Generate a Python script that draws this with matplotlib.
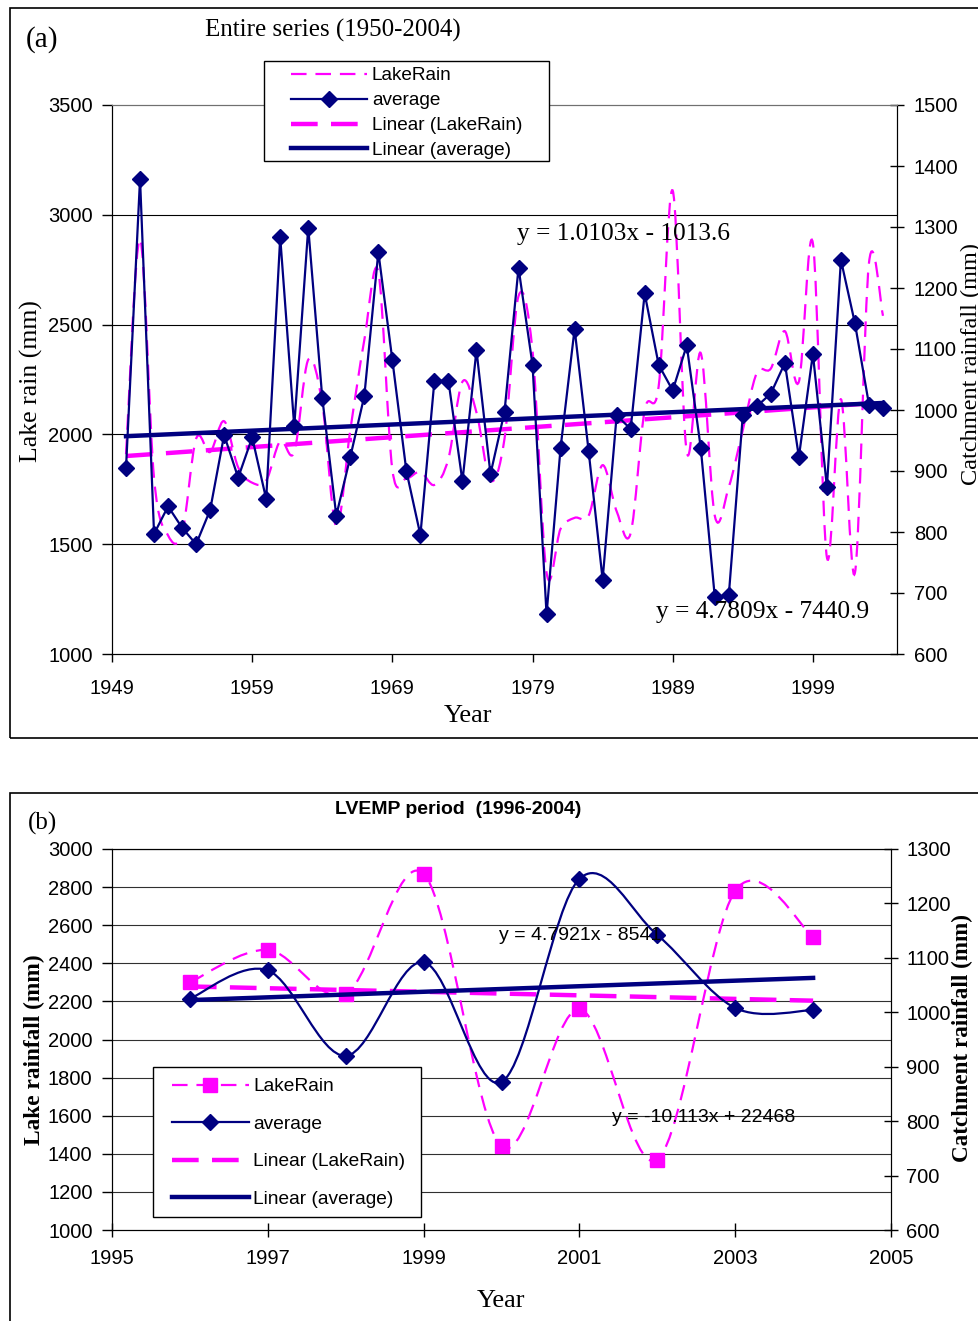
import numpy as np
import matplotlib
matplotlib.use("Agg")
import matplotlib.pyplot as plt
from matplotlib.path import Path
from matplotlib.patches import PathPatch, Rectangle
from matplotlib.lines import Line2D

plt.rcParams['font.family'] = ['Liberation Sans', 'DejaVu Sans']
SERIF = ['Liberation Serif', 'DejaVu Serif']

# ---- panel (a): entire series 1950-2004 ----
years_a = list(range(1950, 2005))
lake_a = [1910, 2890, 1800, 1540, 1550, 1980, 1920, 2060, 1850, 1780,
          1790, 1970, 1920, 2340, 2140, 1580, 2020, 2430, 2740, 1840,
          1800, 1830, 1770, 1890, 2240, 2100, 1790, 1980, 2630, 2380,
          1370, 1570, 1620, 1630, 1860, 1650, 1550, 2110, 2220, 3110,
          1920, 2370, 1630, 1760, 2020, 2280, 2300, 2470, 2240, 2870,
          1440, 2160, 1370, 2780, 2540]
avg_a = [905, 1379, 797, 842, 807, 780, 836, 959, 889, 955,
         854, 1283, 973, 1299, 1020, 827, 923, 1023, 1259, 1082,
         900, 795, 1048, 1048, 883, 1098, 895, 997, 1233, 1074,
         665, 938, 1133, 933, 722, 991, 969, 1191, 1074, 1032,
         1106, 938, 694, 696, 991, 1006, 1027, 1077, 923, 1092,
         874, 1246, 1142, 1009, 1004]
eq_a_avg = "y = 1.0103x - 1013.6"
eq_a_lake = "y = 4.7809x - 7440.9"

# ---- panel (b): LVEMP period 1996-2004 ----
years_b = list(range(1996, 2005))
lake_b = [2300, 2470, 2240, 2870, 1440, 2160, 1370, 2780, 2540]
avg_b = [1025, 1077, 920, 1092, 872, 1245, 1142, 1008, 1004]
eq_b_avg = "y = 4.7921x - 8541"
eq_b_lake = "y = -10.113x + 22468"

labels = ["LakeRain", "average", "Linear (LakeRain)", "Linear (average)"]

MAG = '#FF00FF'
NAVY = '#000080'
W, H = 979, 1321


def smooth_path(x, y):
    # Bezier path through the points, like a spreadsheet "smoothed line"
    x = list(x); y = list(y); n = len(x)
    verts = [(x[0], y[0])]
    codes = [Path.MOVETO]
    for i in range(n - 1):
        xp, yp = (x[i - 1], y[i - 1]) if i > 0 else (x[i], y[i])
        xn, yn = (x[i + 2], y[i + 2]) if i + 2 < n else (x[i + 1], y[i + 1])
        c1 = (x[i] + (x[i + 1] - xp) / 6, y[i] + (y[i + 1] - yp) / 6)
        c2 = (x[i + 1] - (xn - x[i]) / 6, y[i + 1] - (yn - y[i]) / 6)
        verts += [c1, c2, (x[i + 1], y[i + 1])]
        codes += [Path.CURVE4] * 3
    return Path(verts, codes)


def fx(px):
    return px / W


def fy(py):
    return 1 - py / H


def legend_box(axis, x0, y0, x1, y1):
    axis.add_patch(Rectangle((fx(x0), fy(y1)), fx(x1) - fx(x0), fy(y0) - fy(y1),
                             transform=fig.transFigure, facecolor='white', edgecolor='black',
                             lw=1.0, zorder=9, clip_on=False))


fig = plt.figure(figsize=(9.79, 13.21), dpi=100)

# panel frames
fig.patches.append(Rectangle((fx(10), fy(738)), 1.2, fy(8) - fy(738), transform=fig.transFigure,
                             fill=False, edgecolor='black', lw=1.2))
fig.patches.append(Rectangle((fx(10), fy(1400)), 1.2, fy(793) - fy(1400), transform=fig.transFigure,
                             fill=False, edgecolor='black', lw=1.2))

# ================= (a) =================
ax = fig.add_axes([fx(112), fy(654), fx(897) - fx(112), fy(105) - fy(654)])
ax2 = ax.twinx()
ax.set_xlim(1949, 2005)
ax.set_ylim(1000, 3500)
ax2.set_ylim(600, 1500)
ax.set_xticks(range(1949, 2000, 10))
ax.set_yticks(range(1000, 3501, 500))
ax2.set_yticks(range(600, 1501, 100))
for yv in [1500, 2000, 2500, 3000]:
    ax.axhline(yv, color='black', lw=0.8, zorder=0)

ax.add_patch(PathPatch(smooth_path(years_a, lake_a), fill=False, edgecolor=MAG, lw=1.6,
                       linestyle=(0, (7, 4)), zorder=2))
c = np.polyfit(years_a, lake_a, 1)
ax.plot([years_a[0], years_a[-1]], np.polyval(c, [years_a[0], years_a[-1]]),
        color=MAG, lw=3.2, linestyle=(0, (6, 3)), zorder=3)

ax2.plot(years_a, avg_a, color=NAVY, lw=1.6, marker='D', ms=8, zorder=4)
c = np.polyfit(years_a, avg_a, 1)
ax2.plot([years_a[0], years_a[-1]], np.polyval(c, [years_a[0], years_a[-1]]),
         color=NAVY, lw=3.2, zorder=3)

ax.tick_params(axis='y', direction='out', length=7, width=1, pad=7, labelsize=14.5)
ax.tick_params(axis='x', direction='out', length=6, width=1, pad=12, labelsize=14.5)
ax2.tick_params(axis='y', direction='inout', length=10, width=1, pad=7, labelsize=14.5)
for a in (ax, ax2):
    a.spines['top'].set_color('#707070')
    for s in ('left', 'right', 'bottom'):
        a.spines[s].set_color('black')

fig.text(fx(42), fy(40), "(a)", family=SERIF, fontsize=21, ha='center', va='center')
fig.text(fx(333), fy(30), "Entire series (1950-2004)", family=SERIF, fontsize=18,
         ha='center', va='center')
fig.text(fx(31), fy(381), "Lake rain (mm)", family=SERIF, fontsize=18.5, rotation=90,
         ha='center', va='center')
fig.text(fx(971), fy(364), "Catchment rainfall (mm)", family=SERIF, fontsize=17.5, rotation=90,
         ha='center', va='center')
fig.text(fx(468), fy(716), "Year", family=SERIF, fontsize=19, ha='center', va='center')
fig.text(fx(517), fy(234), eq_a_avg, family=SERIF, fontsize=18.3, ha='left', va='center')
fig.text(fx(656), fy(612), eq_a_lake, family=SERIF, fontsize=18.3, ha='left', va='center')

handles_a = [Line2D([], [], color=MAG, lw=1.6, linestyle=(0, (7, 4))),
             Line2D([], [], color=NAVY, lw=1.6, marker='D', ms=8),
             Line2D([], [], color=MAG, lw=3.2, linestyle=(0, (6, 3))),
             Line2D([], [], color=NAVY, lw=3.2)]
legend_box(ax2, 264, 61, 549, 161)
leg = ax2.legend(handles_a, labels, loc='upper left', bbox_to_anchor=(fx(291), fy(67)),
                 bbox_transform=fig.transFigure, fontsize=13.7, frameon=False,
                 handlelength=4.0, handletextpad=0.25,
                 labelspacing=0.4, borderpad=0, borderaxespad=0)
leg.set_zorder(10)

# ================= (b) =================
bx = fig.add_axes([fx(112), fy(1230), fx(891) - fx(112), fy(849) - fy(1230)])
bx2 = bx.twinx()
bx.set_xlim(1995, 2005)
bx.set_ylim(1000, 3000)
bx2.set_ylim(600, 1300)
bx.set_xticks(range(1995, 2006, 2))
bx.set_yticks(range(1000, 3001, 200))
bx2.set_yticks(range(600, 1301, 100))
for yv in range(1200, 3001, 200):
    bx.axhline(yv, color='#303030', lw=0.8, zorder=0)

bx.add_patch(PathPatch(smooth_path(years_b, lake_b), fill=False, edgecolor=MAG, lw=1.6,
                       linestyle=(0, (7, 4)), zorder=2))
bx.plot(years_b, lake_b, linestyle='none', marker='s', ms=10, color=MAG, zorder=4)
c = np.polyfit(years_b, lake_b, 1)
bx.plot([years_b[0], years_b[-1]], np.polyval(c, [years_b[0], years_b[-1]]),
        color=MAG, lw=3.2, linestyle=(0, (6, 3)), zorder=3)

bx2.add_patch(PathPatch(smooth_path(years_b, avg_b), fill=False, edgecolor=NAVY, lw=1.6, zorder=2))
bx2.plot(years_b, avg_b, linestyle='none', marker='D', ms=8, color=NAVY, zorder=4)
c = np.polyfit(years_b, avg_b, 1)
bx2.plot([years_b[0], years_b[-1]], np.polyval(c, [years_b[0], years_b[-1]]),
         color=NAVY, lw=3.2, zorder=3)

bx.tick_params(axis='y', direction='out', length=7, width=1, pad=7, labelsize=14.5)
bx.tick_params(axis='x', direction='inout', length=10, width=1, pad=9, labelsize=14.5)
bx2.tick_params(axis='y', direction='inout', length=10, width=1, pad=6, labelsize=14.5)

fig.text(fx(43), fy(823), "(b)", family=SERIF, fontsize=18, ha='center', va='center')
fig.text(fx(458), fy(810), "LVEMP period  (1996-2004)", fontsize=14, fontweight='bold',
         ha='center', va='center')
fig.text(fx(34), fy(1050), "Lake rainfall (mm)", family=SERIF, fontsize=16.8, fontweight='bold',
         rotation=90, ha='center', va='center')
fig.text(fx(962), fy(1038), "Catchment rainfall (mm)", family=SERIF, fontsize=16.7,
         fontweight='bold', rotation=90, ha='center', va='center')
fig.text(fx(501), fy(1301), "Year", family=SERIF, fontsize=19, ha='center', va='center')
fig.text(fx(499), fy(936), eq_b_avg, fontsize=14, ha='left', va='center', zorder=10)
fig.text(fx(612), fy(1117), eq_b_lake, fontsize=14, ha='left', va='center', zorder=10)

handles_b = [Line2D([], [], color=MAG, lw=1.6, linestyle=(0, (7, 4)), marker='s', ms=10),
             Line2D([], [], color=NAVY, lw=1.6, marker='D', ms=8),
             Line2D([], [], color=MAG, lw=3.2, linestyle=(0, (6, 3))),
             Line2D([], [], color=NAVY, lw=3.2)]
legend_box(bx2, 153, 1067, 421, 1217)
leg = bx2.legend(handles_b, labels, loc='upper left', bbox_to_anchor=(fx(172), fy(1078)),
                 bbox_transform=fig.transFigure, fontsize=13.8, frameon=False,
                 handlelength=4.0, handletextpad=0.25,
                 labelspacing=1.05, borderpad=0, borderaxespad=0)
leg.set_zorder(10)

fig.savefig("out.png", dpi=100)
